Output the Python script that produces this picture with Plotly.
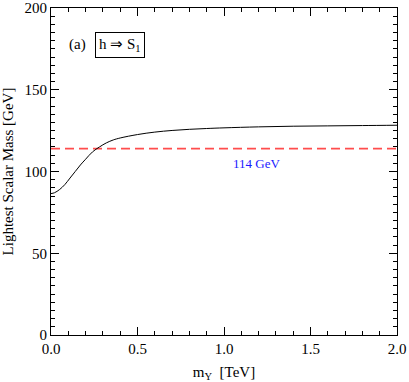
import plotly.graph_objects as go

# lightest scalar mass vs m_Y
m_y = [0.0, 0.02, 0.05, 0.08, 0.11, 0.14, 0.17, 0.20, 0.24, 0.28, 0.32, 0.36,
       0.40, 0.50, 0.60, 0.70, 0.80, 0.90, 1.00, 1.20, 1.40, 1.60, 1.80, 2.00]
m_scalar = [86.5, 87.0, 89.0, 92.0, 96.0, 100.0, 104.0, 107.5, 112.0, 115.0, 117.5, 119.3,
            120.5, 122.6, 124.1, 125.1, 125.8, 126.3, 126.7, 127.3, 127.7, 127.9, 128.1, 128.3]

lep_bound = 114
lep_x = [0.0, 2.0]

font = "Liberation Serif, Times New Roman, Times, serif"

fig = go.Figure()

fig.add_trace(go.Scatter(
    x=lep_x, y=[lep_bound, lep_bound], mode="lines",
    line=dict(color="#ff4d4d", width=1.6, dash="9px,5px"),
    showlegend=False, hoverinfo="skip"))

fig.add_trace(go.Scatter(
    x=m_y, y=m_scalar, mode="lines", line_shape="spline",
    line=dict(color="black", width=1),
    showlegend=False))

fig.add_annotation(x=1.19, y=105, text="114 GeV", showarrow=False,
                   font=dict(family=font, size=13, color="#1a1aff"))
fig.add_annotation(x=0.155, y=177.5, text="(a)", showarrow=False,
                   font=dict(family=font, size=15, color="black"))
fig.add_annotation(x=0.40, y=177.5, text="h ⇒ S<sub>1</sub>", showarrow=False,
                   font=dict(family=font, size=15, color="black"),
                   bordercolor="black", borderwidth=1, borderpad=3, bgcolor="white")

axis_common = dict(
    showgrid=False, zeroline=False, showline=True, linecolor="black", linewidth=1,
    mirror="allticks", ticks="inside", ticklen=8, tickwidth=1, tickcolor="black",
    tickfont=dict(family=font, size=15, color="black"), automargin=False,
)

fig.update_xaxes(
    range=[0, 2.0], tick0=0, dtick=0.5, tickformat=".1f",
    minor=dict(dtick=0.1, ticks="inside", ticklen=4, tickcolor="black"),
    title=dict(text="m<sub>Y</sub>  [TeV]", font=dict(family=font, size=15, color="black")),
    **axis_common)
fig.update_yaxes(
    range=[0, 200], tick0=0, dtick=50,
    minor=dict(dtick=5, ticks="inside", ticklen=4, tickcolor="black"),
    title=dict(text="Lightest Scalar Mass [GeV]", font=dict(family=font, size=15, color="black")),
    **axis_common)

fig.update_layout(
    width=409, height=382,
    margin=dict(l=51, r=12, t=8, b=47),
    plot_bgcolor="white", paper_bgcolor="white",
    font=dict(family=font),
)

# page body has a default 8px margin; drop it so the figure sits at the window corner
fig.write_html("out.html", config={"displayModeBar": False},
               post_script="document.body.style.margin='0';")
